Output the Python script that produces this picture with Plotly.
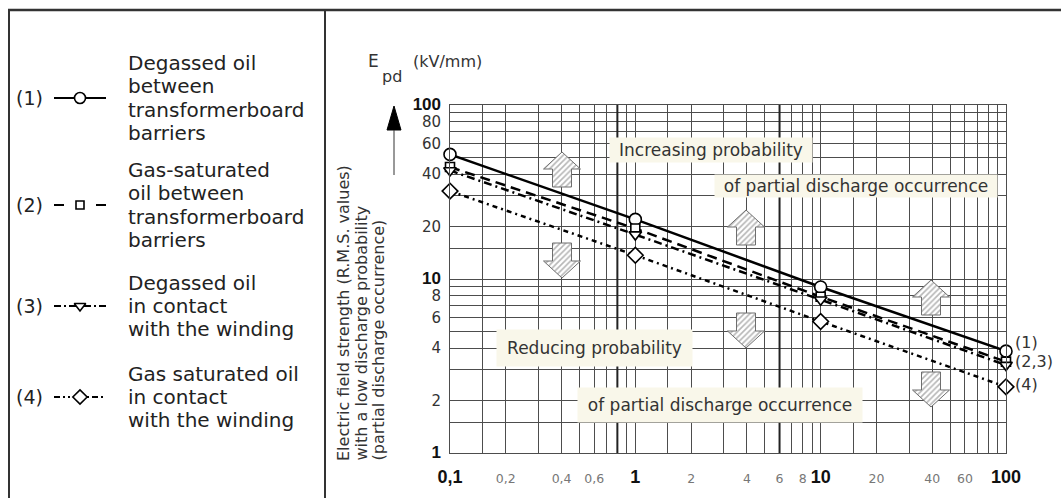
import numpy as np
import plotly.graph_objects as go

# ---- data: permissible field strength E_pd (kV/mm) vs. x (log scale) ----
x_vals = [0.1, 1, 10, 100]
e_degassed_barriers = [52, 22, 9.0, 3.85]     # (1)
e_gas_sat_barriers = [44, 19.5, 7.9, 3.35]    # (2)
e_degassed_winding = [42, 18, 7.6, 3.2]       # (3)
e_gas_sat_winding = [32, 13.7, 5.7, 2.4]      # (4)

series_values = [e_degassed_barriers, e_gas_sat_barriers, e_degassed_winding, e_gas_sat_winding]
series_ids = ["(1)", "(2)", "(3)", "(4)"]
series_text = [
    ["Degassed oil", "between", "transformerboard", "barriers"],
    ["Gas-saturated", "oil between", "transformerboard", "barriers"],
    ["Degassed oil", "in contact", "with the winding"],
    ["Gas saturated oil", "in contact", "with the winding"],
]
end_labels = ["(1)", "(2,3)", None, "(4)"]

# ---- axis ticks ----
x_tick_vals = [0.1, 0.2, 0.4, 0.6, 1, 2, 4, 6, 8, 10, 20, 40, 60, 100]
x_tick_text = ["0,1", "0,2", "0,4", "0,6", "1", "2", "4", "6", "8", "10", "20", "40", "60", "100"]
x_minor_grid = [0.15, 0.3, 0.5, 0.7, 0.8, 0.9, 1.5, 3, 5, 7, 9, 15, 30, 50, 70, 80, 90]
x_heavy_grid = [0.8, 6]
y_tick_vals = [1, 2, 4, 6, 8, 10, 20, 40, 60, 80, 100]
y_tick_text = ["1", "2", "4", "6", "8", "10", "20", "40", "60", "80", "100"]
y_minor_grid = [1.5, 3, 5, 7, 9, 15, 30, 50, 70, 90]
decades = [0.1, 1, 10, 100]

W, H = 1061, 498
PLOT_L, PLOT_R, PLOT_T, PLOT_B = 450, 1006, 105, 453

TEXT = "#222222"
GRID = "#4d4d4d"
BOX = "rgb(249,247,234)"
SANS = "DejaVu Sans"
ARIAL = "Liberation Sans"

styles = [
    dict(dash="solid", symbol="circle", size=12),
    dict(dash="10px,6px", symbol="square", size=9),
    dict(dash="8px,4px,2px,4px", symbol="triangle-down", size=11),
    dict(dash="5px,4px,2px,4px", symbol="diamond", size=12),
]


def x_label(t, v):
    if v in decades:
        return f"<b><span style='font-family:{ARIAL};font-size:18px;fill:#111'>{t}</span></b>"
    return t


def y_label(t, v):
    if v in decades:
        return f"<b><span style='font-family:{ARIAL};font-size:17px;fill:#111'>{t}</span></b>"
    return t


fig = go.Figure()

# emphasised vertical grid lines
for gx in x_heavy_grid:
    fig.add_trace(go.Scatter(x=[gx, gx], y=[1, 100], mode="lines",
                             line=dict(color="#222", width=2), hoverinfo="skip", showlegend=False))

# curves
for vals, st in zip(series_values, styles):
    fig.add_trace(go.Scatter(
        x=x_vals, y=vals, mode="lines+markers", cliponaxis=False,
        line=dict(color="black", width=2.5, dash=st["dash"]),
        marker=dict(symbol=st["symbol"], size=st["size"], color="white",
                    line=dict(color="black", width=1.6)),
        hoverinfo="skip", showlegend=False))

# ---- overlay in pixel coordinates: legend keys, arrows ----
legend_rows = [98, 205, 306, 397]
key_dash = ["solid", "10px,32px", "7px,3px,2px,3px", "6px,3px,2px,3px,2px,3px"]
for row_y, st, kd in zip(legend_rows, styles, key_dash):
    fig.add_trace(go.Scatter(x=[54, 106], y=[row_y, row_y], mode="lines",
                             line=dict(color="black", width=2.2, dash=kd),
                             xaxis="x2", yaxis="y2", hoverinfo="skip", showlegend=False))
    fig.add_trace(go.Scatter(x=[80], y=[row_y], mode="markers",
                             marker=dict(symbol=st["symbol"], size=st["size"] - 1, color="white",
                                         line=dict(color="black", width=1.6)),
                             xaxis="x2", yaxis="y2", hoverinfo="skip", showlegend=False))

# hatched block arrows (centre x, centre y, direction)
arrow_specs = [(562, 169.5, "up"), (746, 227.5, "up"), (931, 297.5, "up"),
               (562, 260.5, "down"), (746, 330.5, "down"), (931, 389.5, "down")]
AW, AH, HEAD, SHAFT = 37, 35, 17, 19
for cx, cy, d in arrow_specs:
    s = -1 if d == "up" else 1
    tip = cy + s * AH / 2
    base = cy - s * AH / 2
    neck = tip - s * HEAD
    xs = [cx, cx + AW / 2, cx + SHAFT / 2, cx + SHAFT / 2, cx - SHAFT / 2, cx - SHAFT / 2, cx - AW / 2, cx]
    ys = [tip, neck, neck, base, base, neck, neck, tip]
    fig.add_trace(go.Scatter(
        x=xs, y=ys, mode="lines", fill="toself", fillcolor="white",
        fillpattern=dict(shape="/", fgcolor="#6e6e6e", bgcolor="white", size=4, solidity=0.4),
        line=dict(color="#6e6e6e", width=1), xaxis="x2", yaxis="y2",
        hoverinfo="skip", showlegend=False))

annotations = []

# legend texts
LINE_STEP = 23.3
for row_y, sid, lines in zip(legend_rows, series_ids, series_text):
    annotations.append(dict(x=14, y=row_y, xref="x2", yref="y2", text=sid, showarrow=False,
                            xanchor="left", yanchor="middle", font=dict(family=SANS, size=19, color=TEXT)))
    n = len(lines)
    for i, ln in enumerate(lines):
        annotations.append(dict(x=126, y=row_y + (i - (n - 1) / 2) * LINE_STEP, xref="x2", yref="y2",
                                text=ln, showarrow=False, xanchor="left", yanchor="middle",
                                font=dict(family=SANS, size=20, color=TEXT)))

# y-axis title (three rotated lines)
y_title_lines = ["Electric field strength (R.M.S. values)",
                 "with a low discharge probability",
                 "(partial discharge occurrence)"]
for xp, ln in zip([343, 361, 378], y_title_lines):
    annotations.append(dict(x=xp, y=463, xref="x2", yref="y2", text=ln, textangle=-90,
                            showarrow=False, xanchor="center", yanchor="bottom",
                            font=dict(family=SANS, size=16, color="#333")))

# quantity symbol
annotations += [
    dict(x=366, y=61, xref="x2", yref="y2", text="E", showarrow=False, xanchor="left",
         yanchor="middle", font=dict(family=SANS, size=17, color="#333")),
    dict(x=380, y=76, xref="x2", yref="y2", text="pd", showarrow=False, xanchor="left",
         yanchor="middle", font=dict(family=SANS, size=16, color="#333")),
    dict(x=411, y=61, xref="x2", yref="y2", text="(kV/mm)", showarrow=False, xanchor="left",
         yanchor="middle", font=dict(family=SANS, size=16, color="#333")),
]

# region captions
captions = [
    ("Increasing probability", 711, 150, 202, 24),
    ("of partial discharge occurrence", 856, 186, 282, 22),
    ("Reducing probability", 594.5, 348, 195, 36),
    ("of partial discharge occurrence", 720, 405, 284, 34),
]
for txt, cx, cy, bw, bh in captions:
    annotations.append(dict(x=cx, y=cy, xref="x2", yref="y2", text=txt, showarrow=False,
                            xanchor="center", yanchor="middle", width=bw, height=bh,
                            bgcolor=BOX, borderpad=0,
                            font=dict(family=SANS, size=17, color="#333")))

# curve identifiers at the right-hand end
end_shift = {"(1)": 9, "(2,3)": 0, "(4)": 2}
for vals, lab in zip(series_values, end_labels):
    if lab is None:
        continue
    annotations.append(dict(x=np.log10(x_vals[-1]), y=np.log10(vals[-1]), xref="x", yref="y",
                            text=lab, showarrow=False, xanchor="left", yanchor="middle",
                            xshift=7, yshift=end_shift[lab],
                            font=dict(family=SANS, size=16, color="#333")))

shapes = [
    # frame
    dict(type="line", xref="x2", yref="y2", x0=8, x1=W, y0=10, y1=10, line=dict(color="#333", width=2.5)),
    dict(type="line", xref="x2", yref="y2", x0=9, x1=9, y0=10, y1=H, line=dict(color="#333", width=2)),
    dict(type="line", xref="x2", yref="y2", x0=325, x1=325, y0=10, y1=H, line=dict(color="#333", width=2)),
    # upward arrow beside the y axis
    dict(type="path", xref="x2", yref="y2", path="M 394,106 L 401,130 L 387,130 Z",
         fillcolor="black", line=dict(color="black", width=1)),
    dict(type="line", xref="x2", yref="y2", x0=394, x1=394, y0=130, y1=175,
         line=dict(color="#333", width=1)),
]

fig.update_layout(
    width=W, height=H,
    margin=dict(l=0, r=0, t=0, b=0, autoexpand=False),
    paper_bgcolor="white", plot_bgcolor="rgba(0,0,0,0)",
    showlegend=False,
    annotations=annotations,
    shapes=shapes,
    xaxis=dict(
        type="log", range=[-1, 2], domain=[PLOT_L / W, PLOT_R / W], anchor="y", automargin=False,
        tickmode="array", tickvals=x_tick_vals,
        ticktext=[x_label(t, v) for t, v in zip(x_tick_text, x_tick_vals)],
        tickfont=dict(family=SANS, size=12.5, color="#777"),
        ticks="", ticklabelstandoff=14,
        showgrid=True, gridcolor=GRID, gridwidth=1,
        minor=dict(tickmode="array", tickvals=x_minor_grid, showgrid=True, gridcolor=GRID, gridwidth=1, ticks=""),
        showline=True, mirror=True, linecolor=GRID, linewidth=1, zeroline=False, fixedrange=True,
    ),
    yaxis=dict(
        type="log", range=[0, 2], domain=[1 - PLOT_B / H, 1 - PLOT_T / H], anchor="x", automargin=False,
        tickmode="array", tickvals=y_tick_vals,
        ticktext=[y_label(t, v) for t, v in zip(y_tick_text, y_tick_vals)],
        tickfont=dict(family=SANS, size=15, color="#333"),
        ticks="", ticklabelstandoff=5,
        showgrid=True, gridcolor=GRID, gridwidth=1,
        minor=dict(tickmode="array", tickvals=y_minor_grid, showgrid=True, gridcolor=GRID, gridwidth=1, ticks=""),
        showline=True, mirror=True, linecolor=GRID, linewidth=1, zeroline=False, fixedrange=True,
    ),
    xaxis2=dict(range=[0, W], domain=[0, 1], anchor="y2", visible=False, fixedrange=True, automargin=False),
    yaxis2=dict(range=[H, 0], domain=[0, 1], anchor="x2", visible=False, fixedrange=True, automargin=False),
)

fig.write_html("out.html")
